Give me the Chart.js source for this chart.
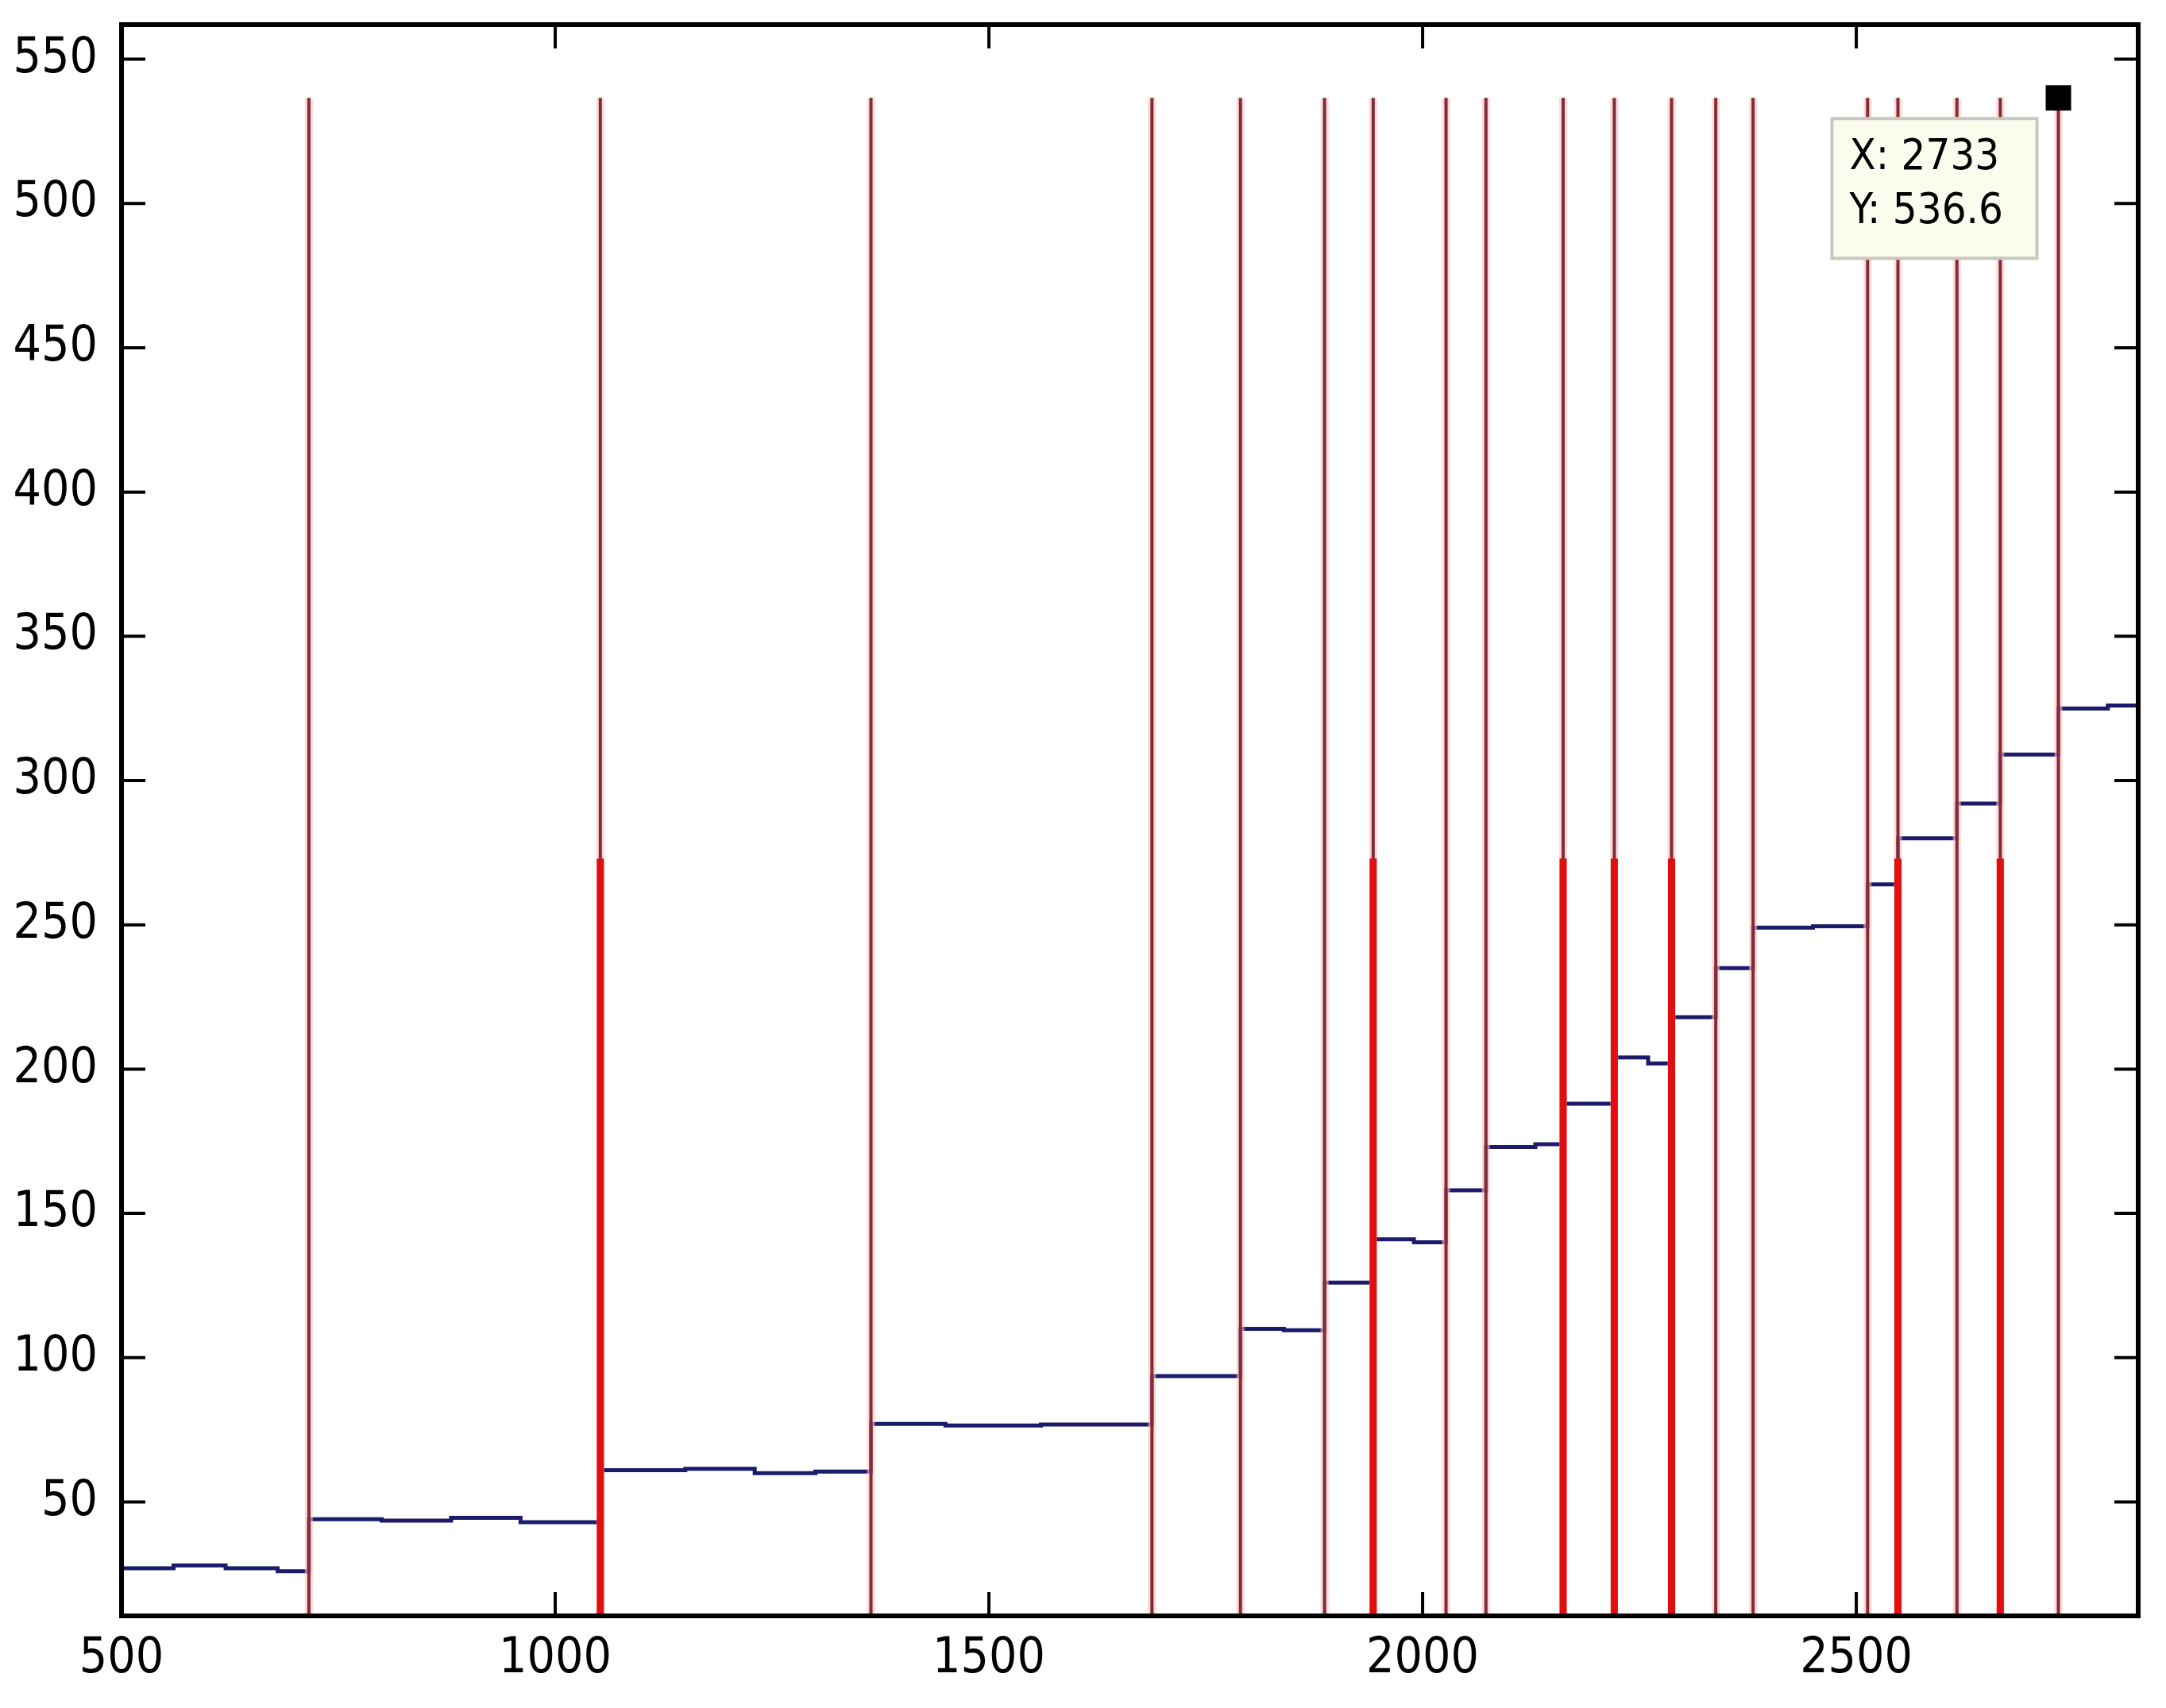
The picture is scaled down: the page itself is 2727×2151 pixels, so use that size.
<!DOCTYPE html>
<html>
<head>
<meta charset="utf-8">
<script src="https://cdn.jsdelivr.net/npm/chart.js@4"></script>
<style>
  html, body { margin: 0; padding: 0; background: #fff; }
  #wrap { width: 2727px; height: 2151px; }
</style>
</head>
<body>
<div id="wrap"><canvas id="c"></canvas></div>
<script>
// step signal: x where each level starts, and level value
const stepX = [500, 560, 620, 680, 716, 800, 880, 960, 1052, 1150, 1230, 1300, 1364, 1450, 1560, 1688, 1790, 1840, 1887, 1943, 1990, 2027, 2073, 2130, 2162, 2221, 2260, 2287, 2338, 2381, 2450, 2513, 2548, 2616, 2666, 2733, 2790];
const stepY = [27, 28, 27, 26, 44, 43.5, 44.5, 43, 61, 61.5, 60, 60.5, 77, 76.5, 76.8, 93.6, 110, 109.5, 126, 141, 140, 158, 173, 174, 188, 204, 202, 218, 235, 249, 249.5, 264, 280, 292, 309, 325, 326];
const xEnd = 2825;

// marker lines (thin, to the top) and highlighted ones (thick, half height)
const thinLines = [716, 1052, 1364, 1688, 1790, 1887, 1943, 2027, 2073, 2162, 2221, 2287, 2338, 2381, 2513, 2548, 2616, 2666, 2733];
const thickLines = [1052, 1943, 2162, 2221, 2287, 2548, 2666];
const thinTop = 536.6;
const thickTop = 273;

const xTicks = [500, 1000, 1500, 2000, 2500];
const yTicks = [50, 100, 150, 200, 250, 300, 350, 400, 450, 500, 550];
const yMin = 10.5, yMax = 562;

const datatip = { x: 2733, y: 536.6 };

const stepData = stepX.map((x, i) => ({ x, y: stepY[i] }));
stepData.push({ x: xEnd, y: stepY[stepY.length - 1] });

// lower "order" is drawn on top
const datasets = [];
datasets.push({ data: stepData, borderColor: '#1c1a6b', borderWidth: 5, stepped: 'before', order: 4 });
thinLines.forEach(x => {
  datasets.push({ data: [{ x, y: yMin }, { x, y: thinTop }], borderColor: 'rgba(255,190,195,0.6)', borderWidth: 10, order: 3 });
  datasets.push({ data: [{ x, y: yMin }, { x, y: thinTop }], borderColor: '#7e2e34', borderWidth: 4, order: 2 });
});
thickLines.forEach(x => {
  datasets.push({ data: [{ x, y: yMin }, { x, y: thickTop }], borderColor: '#e01010', borderWidth: 9, order: 1 });
});

const FONT = "'Liberation Sans Narrow', 'DejaVu Sans Condensed', sans-serif";

const frame = {
  id: 'frame',
  afterDatasetsDraw(chart) {
    const { ctx, chartArea: a, scales: { x, y } } = chart;
    ctx.save();
    ctx.strokeStyle = '#000';
    ctx.lineWidth = 6;
    ctx.strokeRect(a.left, a.top, a.right - a.left, a.bottom - a.top);
    ctx.lineWidth = 4;
    const t = 30;
    xTicks.forEach(v => {
      const p = x.getPixelForValue(v);
      ctx.beginPath();
      ctx.moveTo(p, a.bottom); ctx.lineTo(p, a.bottom - t);
      ctx.moveTo(p, a.top); ctx.lineTo(p, a.top + t);
      ctx.stroke();
    });
    yTicks.forEach(v => {
      const p = y.getPixelForValue(v);
      ctx.beginPath();
      ctx.moveTo(a.left, p); ctx.lineTo(a.left + t, p);
      ctx.moveTo(a.right, p); ctx.lineTo(a.right - t, p);
      ctx.stroke();
    });
    // datatip
    const px = x.getPixelForValue(datatip.x), py = y.getPixelForValue(datatip.y);
    ctx.fillStyle = '#000';
    ctx.fillRect(px - 16, py - 16, 32, 32);
    const bx = px - 285, by = py + 26, bw = 258, bh = 176;
    ctx.fillStyle = '#fbfbee';
    ctx.fillRect(bx, by, bw, bh);
    ctx.strokeStyle = '#c8c8c0';
    ctx.lineWidth = 4;
    ctx.strokeRect(bx, by, bw, bh);
    ctx.fillStyle = '#000';
    ctx.font = '54px ' + FONT;
    ctx.textBaseline = 'middle';
    ctx.fillText('X: ' + datatip.x, bx + 22, by + 50);
    ctx.fillText('Y: ' + datatip.y, bx + 22, by + 118);
    ctx.restore();
  }
};

new Chart(document.getElementById('c'), {
  type: 'line',
  data: { datasets },
  options: {
    responsive: true,
    maintainAspectRatio: false,
    animation: false,
    events: [],
    layout: { padding: { top: 31, right: 35, left: 0, bottom: 0 } },
    elements: { point: { radius: 0 } },
    plugins: { legend: { display: false }, tooltip: { enabled: false } },
    scales: {
      x: {
        type: 'linear', min: 500, max: xEnd,
        afterBuildTicks: s => { s.ticks = xTicks.map(v => ({ value: v })); },
        afterFit: s => { s.height = 116; s.paddingLeft = 0; s.paddingRight = 0; },
        grid: { display: false }, border: { display: false },
        ticks: { color: '#000', font: { family: FONT, size: 62 }, padding: 10, maxRotation: 0, callback: v => String(v) }
      },
      y: {
        type: 'linear', min: yMin, max: yMax,
        afterBuildTicks: s => { s.ticks = yTicks.map(v => ({ value: v })); },
        afterFit: s => { s.width = 153; s.paddingTop = 0; s.paddingBottom = 0; },
        grid: { display: false }, border: { display: false },
        ticks: { color: '#000', font: { family: FONT, size: 62 }, padding: 22, callback: v => String(v) }
      }
    }
  },
  plugins: [frame]
});
</script>
</body>
</html>
